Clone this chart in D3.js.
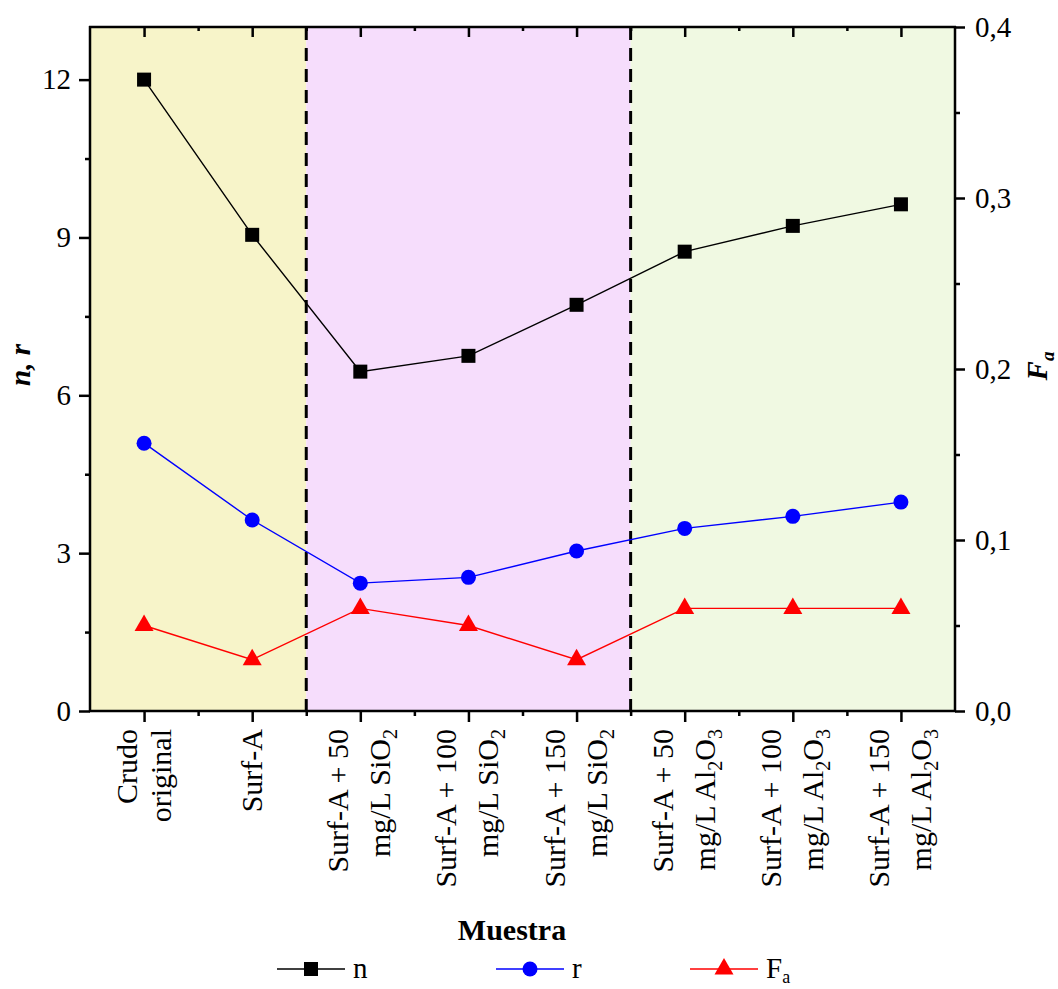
<!DOCTYPE html>
<html>
<head>
<meta charset="utf-8">
<script src="https://cdn.jsdelivr.net/npm/d3@7"></script>
<style>
  html, body { margin: 0; padding: 0; background: #fff; }
  svg { display: block; }
  svg text { font-family: "Liberation Serif", "Times New Roman", Times, "DejaVu Serif", serif !important; fill: #000; }
</style>
</head>
<body>
<svg id="chart" width="1058" height="989" font-family="Liberation Serif, Times New Roman, DejaVu Serif, serif"></svg>
<script>
// ---- data ----
const categories = [
  ["Crudo", "original"],
  ["Surf-A"],
  ["Surf-A + 50", "mg/L SiO_2"],
  ["Surf-A + 100", "mg/L SiO_2"],
  ["Surf-A + 150", "mg/L SiO_2"],
  ["Surf-A + 50", "mg/L Al_2O_3"],
  ["Surf-A + 100", "mg/L Al_2O_3"],
  ["Surf-A + 150", "mg/L Al_2O_3"]
];
const nValues  = [12.0, 9.05, 6.45, 6.75, 7.72, 8.73, 9.22, 9.63];
const rValues  = [5.09, 3.63, 2.43, 2.54, 3.04, 3.47, 3.70, 3.97];
const faValues = [0.05, 0.03, 0.06, 0.05, 0.03, 0.06, 0.06, 0.06];
const leftTicks  = [0, 3, 6, 9, 12];
const rightTicks = [0, 0.1, 0.2, 0.3, 0.4];
const regionStarts = [0, 2, 5];   // category index where each shaded region starts
const regionEnds   = [2, 5, 8];
const regionColors = ["#f7f4c9", "#f6ddfc", "#f0f9e2"];

// ---- layout ----
const FONT = '"Liberation Serif", "Times New Roman", Times, "DejaVu Serif", serif';
const M = { left: 90, right: 955, top: 27, bottom: 711 };
const svg = d3.select("#chart");
svg.append("rect").attr("width", 1058).attr("height", 989).attr("fill", "#fff");

const idx = d3.range(categories.length);
const x = d3.scaleBand().domain(idx).range([M.left, M.right]).padding(0);
const step = x.step();
const xc = i => x(i) + step / 2;
const yL = d3.scaleLinear().domain([0, 13]).range([M.bottom, M.top]);
const yR = d3.scaleLinear().domain([0, 0.4]).range([M.bottom, M.top]);

// shaded regions
svg.append("g").selectAll("rect").data(regionStarts).join("rect")
  .attr("x", (d) => x(d))
  .attr("y", M.top)
  .attr("width", (d, i) => (regionEnds[i] - d) * step)
  .attr("height", M.bottom - M.top)
  .attr("fill", (d, i) => regionColors[i]);

// dashed separators
svg.append("g").selectAll("line").data(regionStarts.slice(1)).join("line")
  .attr("x1", d => x(d)).attr("x2", d => x(d))
  .attr("y1", M.top).attr("y2", M.bottom)
  .attr("stroke", "#000").attr("stroke-width", 3)
  .attr("stroke-dasharray", "13,8");

// ---- series ----
function drawLine(values, scale, color) {
  const line = d3.line().x((d, i) => xc(i)).y(d => scale(d));
  svg.append("path").datum(values).attr("d", line)
    .attr("fill", "none").attr("stroke", color).attr("stroke-width", 1.4);
}
drawLine(nValues, yL, "#000");
drawLine(rValues, yL, "#0000ff");
drawLine(faValues, yR, "#ff0000");

const triPath = "M0,-11L9.5,5.5L-9.5,5.5Z";

svg.append("g").selectAll("rect").data(nValues).join("rect")
  .attr("x", (d, i) => xc(i) - 7).attr("y", d => yL(d) - 7)
  .attr("width", 14).attr("height", 14).attr("fill", "#000");
svg.append("g").selectAll("circle").data(rValues).join("circle")
  .attr("cx", (d, i) => xc(i)).attr("cy", d => yL(d))
  .attr("r", 7.5).attr("fill", "#0000ff");
svg.append("g").selectAll("path").data(faValues).join("path")
  .attr("transform", (d, i) => `translate(${xc(i)},${yR(d)})`)
  .attr("d", triPath).attr("fill", "#ff0000");

// ---- axes ----
const axisW = 2.5;
const fontTick = 29;

const gL = svg.append("g").attr("transform", `translate(${M.left},0)`);
gL.call(d3.axisLeft(yL).tickValues(leftTicks).tickSize(11).tickPadding(8).tickFormat(d3.format("d")));
gL.append("g").call(d3.axisLeft(yL).tickValues(d3.range(1.5, 13, 3)).tickSize(5).tickFormat(""));

const gR = svg.append("g").attr("transform", `translate(${M.right},0)`);
gR.call(d3.axisRight(yR).tickValues(rightTicks).tickSize(10).tickPadding(10)
  .tickFormat(d => d3.format(".1f")(d).replace(".", ",")));
gR.append("g").call(d3.axisRight(yR).tickValues([0.05, 0.15, 0.25, 0.35]).tickSize(5).tickFormat(""));

const bottomPos = d3.scaleLinear().domain([M.left, M.right]).range([M.left, M.right]);
const centers = idx.map(xc);
const bounds = d3.range(1, categories.length).map(i => x(i));
const gB = svg.append("g").attr("transform", `translate(0,${M.bottom})`);
gB.call(d3.axisBottom(bottomPos).tickValues(centers).tickSize(11).tickFormat(""));
gB.append("g").call(d3.axisBottom(bottomPos).tickValues(bounds).tickSize(5).tickFormat(""));

const gT = svg.append("g").attr("transform", `translate(0,${M.top})`);
gT.call(d3.axisBottom(bottomPos).tickValues(centers).tickSize(10).tickFormat(""));
gT.append("g").call(d3.axisBottom(bottomPos).tickValues(bounds).tickSize(4).tickFormat(""));

[gL, gR, gB, gT].forEach(g => {
  g.attr("font-family", null);
  g.selectAll(".domain").remove();
  g.selectAll(".tick line").attr("stroke", "#000").attr("stroke-width", axisW);
  g.selectAll(".tick text").style("font-family", FONT)
    .style("font-size", fontTick + "px").attr("fill", "#000");
});

// frame
[[M.left - 1, M.top, M.right + 1, M.top],
 [M.left - 1, M.bottom, M.right + 1, M.bottom],
 [M.left, M.top - 1, M.left, M.bottom + 1],
 [M.right, M.top - 1, M.right, M.bottom + 1]].forEach(c => {
  svg.append("line").attr("x1", c[0]).attr("y1", c[1]).attr("x2", c[2]).attr("y2", c[3])
    .attr("stroke", "#000").attr("stroke-width", axisW);
});

// ---- category labels (rotated, two lines, with subscripts) ----
function addRich(textSel, str, subSize, subShift) {
  const parts = str.split(/_(\w)/);
  parts.forEach((p, k) => {
    if (p === "") return;
    if (k % 2 === 1) {
      textSel.append("tspan").text(p).style("font-size", subSize + "px")
        .attr("baseline-shift", `-${subShift}px`);
    } else {
      textSel.append("tspan").text(p);
    }
  });
}
const catFont = 30;
categories.forEach((lines, i) => {
  const cx = xc(i);
  const hasSub = lines.some(l => l.includes("_"));
  let offsets;
  if (lines.length === 1) offsets = [10];
  else if (hasSub) offsets = [-12, 30];
  else offsets = [-7, 27];
  lines.forEach((ln, j) => {
    const t = svg.append("text")
      .attr("transform", `translate(${cx + offsets[j]},729) rotate(-90)`)
      .attr("text-anchor", "end")
      .style("font-family", FONT)
      .style("font-size", catFont + "px");
    addRich(t, ln, 20, 7);
  });
});

// ---- axis titles ----
svg.append("text").attr("x", 512).attr("y", 940).attr("text-anchor", "middle")
  .style("font-family", FONT)
  .style("font-size", "30px").style("font-weight", "bold").text("Muestra");

svg.append("text").attr("transform", "translate(30,365) rotate(-90)")
  .attr("text-anchor", "middle").style("font-size", "29px").style("font-family", FONT)
  .style("font-weight", "bold").style("font-style", "italic").text("n, r");

const ft = svg.append("text").attr("transform", "translate(1047,366) rotate(-90)")
  .attr("text-anchor", "middle").style("font-size", "29px").style("font-family", FONT)
  .style("font-weight", "bold").style("font-style", "italic");
addRich(ft, "F_a", 19, 7);

// ---- legend ----
const legendItems = [
  { label: "n", color: "#000", shape: "square", x: 277 },
  { label: "r", color: "#0000ff", shape: "circle", x: 496 },
  { label: "F_a", color: "#ff0000", shape: "triangle", x: 690 }
];
const legY = 969;
legendItems.forEach(it => {
  const g = svg.append("g");
  g.append("line").attr("x1", it.x).attr("x2", it.x + 68).attr("y1", legY).attr("y2", legY)
    .attr("stroke", it.color).attr("stroke-width", 1.6);
  const mx = it.x + 34;
  if (it.shape === "square") {
    g.append("rect").attr("x", mx - 7).attr("y", legY - 7).attr("width", 14).attr("height", 14).attr("fill", it.color);
  } else if (it.shape === "circle") {
    g.append("circle").attr("cx", mx).attr("cy", legY).attr("r", 7.5).attr("fill", it.color);
  } else {
    g.append("path").attr("transform", `translate(${mx},${legY})`).attr("d", triPath).attr("fill", it.color);
  }
  const t = g.append("text").attr("x", it.x + 76).attr("y", legY + 9)
    .style("font-family", FONT).style("font-size", "29px");
  addRich(t, it.label, 18, 5);
});
</script>
</body>
</html>
